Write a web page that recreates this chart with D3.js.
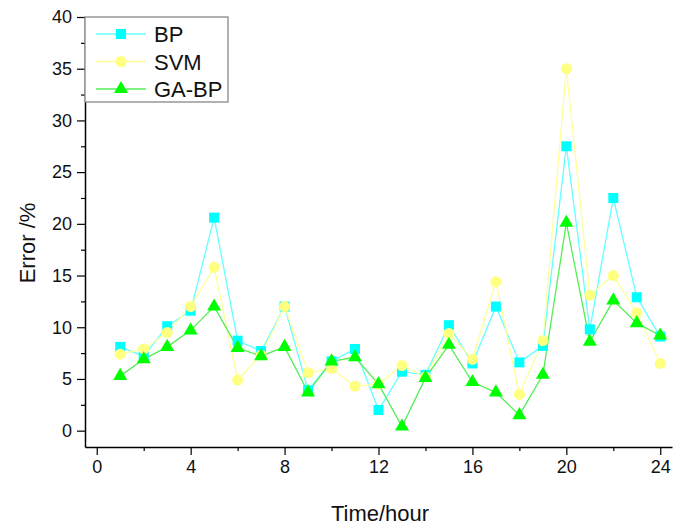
<!DOCTYPE html>
<html><head><meta charset="utf-8">
<script src="https://cdn.jsdelivr.net/npm/d3@7"></script>
<style>body{margin:0;background:#fff}svg{display:block}text{font-family:"Liberation Sans",Arial,sans-serif}</style>
</head><body><svg id="c" width="688" height="527"></svg>
<script>
const hours = d3.range(1, 25);
const bpValues = [8.1,7.2,10.1,11.6,20.6,8.7,7.7,12.0,3.9,6.7,7.9,2.0,5.7,5.4,10.2,6.5,12.0,6.6,8.2,27.5,9.8,22.5,12.9,9.1];
const svmValues = [7.4,7.9,9.5,12.0,15.8,4.9,7.3,12.0,5.6,6.0,4.3,4.5,6.3,5.2,9.4,6.9,14.4,3.5,8.7,35.0,13.1,15.0,11.4,6.5];
const gabpValues = [5.3,6.9,8.1,9.7,12.0,8.0,7.2,8.1,3.7,6.7,7.1,4.5,0.4,5.1,8.3,4.7,3.7,1.5,5.4,20.1,8.6,12.6,10.4,9.2];
const xTicks = [0,4,8,12,16,20,24];
const xMinor = [2,6,10,14,18,22];
const yTicks = [0,5,10,15,20,25,30,35,40];
const yMinor = [2.5,7.5,12.5,17.5,22.5,27.5,32.5,37.5];
const seriesNames = ["BP","SVM","GA-BP"];

const svg = d3.select("#c");
const L = 85, R = 672, T = 17, B = 447;
const x = d3.scaleLinear().domain([-0.5, 24.5]).range([L, R]);
const y = d3.scaleLinear().domain([-1.58, 40]).range([B, T]);

// axes
svg.append("g").attr("transform", `translate(0,${B})`)
  .call(d3.axisBottom(x).tickValues(xTicks).tickSize(8).tickSizeOuter(0).tickPadding(5));
svg.append("g").attr("transform", `translate(0,${B})`)
  .call(d3.axisBottom(x).tickValues(xMinor).tickSize(4).tickFormat("").tickSizeOuter(0))
  .select(".domain").remove();
svg.append("g").attr("transform", `translate(${L},0)`)
  .call(d3.axisLeft(y).tickValues(yTicks).tickSize(8).tickSizeOuter(0).tickPadding(5));
svg.append("g").attr("transform", `translate(${L},0)`)
  .call(d3.axisLeft(y).tickValues(yMinor).tickSize(4).tickFormat("").tickSizeOuter(0))
  .select(".domain").remove();
svg.selectAll(".domain").attr("stroke", "#000").attr("stroke-width", 1.5);
svg.selectAll(".tick line").attr("stroke", "#000").attr("stroke-width", 1.2);
svg.selectAll(".tick text").attr("font-size", 18).attr("fill", "#111")
  .style("font-family", '"Liberation Sans",Arial,sans-serif');

svg.append("text").attr("x", 380).attr("y", 521).attr("text-anchor", "middle")
  .attr("font-size", 22).attr("fill", "#111").text("Time/hour");
svg.append("text").attr("transform", "translate(35,243) rotate(-90)").attr("text-anchor", "middle")
  .attr("font-size", 22).attr("fill", "#111").text("Error /%");

const series = [
  {name: seriesNames[0], values: bpValues, line: "#66ffff", fill: "#00ffff", shape: d3.symbolSquare, size: 100},
  {name: seriesNames[1], values: svmValues, line: "#ffff99", fill: "#ffff80", shape: d3.symbolCircle, size: 95},
  {name: seriesNames[2], values: gabpValues, line: "#55ee55", fill: "#00ff00", shape: d3.symbolTriangle, size: 85}
];
const line = d3.line().x((d, i) => x(hours[i])).y(d => y(d));
series.forEach(s => {
  svg.append("path").datum(s.values).attr("d", line).attr("fill", "none")
    .attr("stroke", s.line).attr("stroke-width", 1.3);
});
series.forEach(s => {
  svg.append("g").selectAll("path").data(s.values).join("path")
    .attr("transform", (d, i) => `translate(${x(hours[i])},${y(d)})`)
    .attr("d", d3.symbol().type(s.shape).size(s.size))
    .attr("fill", s.fill);
});

// legend
const lg = svg.append("g");
lg.append("rect").attr("x", L).attr("y", T).attr("width", 143).attr("height", 85)
  .attr("fill", "#fff").attr("stroke", "#888").attr("stroke-width", 1.3);
series.forEach((s, i) => {
  const yy = 34 + i * 27.5;
  lg.append("line").attr("x1", 96).attr("x2", 146).attr("y1", yy).attr("y2", yy)
    .attr("stroke", s.line).attr("stroke-width", 1.3);
  lg.append("path").attr("transform", `translate(121,${yy})`)
    .attr("d", d3.symbol().type(s.shape).size(s.size)).attr("fill", s.fill);
  lg.append("text").attr("x", 154).attr("y", yy + 8).attr("font-size", 22).attr("fill", "#111").text(s.name);
});
</script></body></html>
